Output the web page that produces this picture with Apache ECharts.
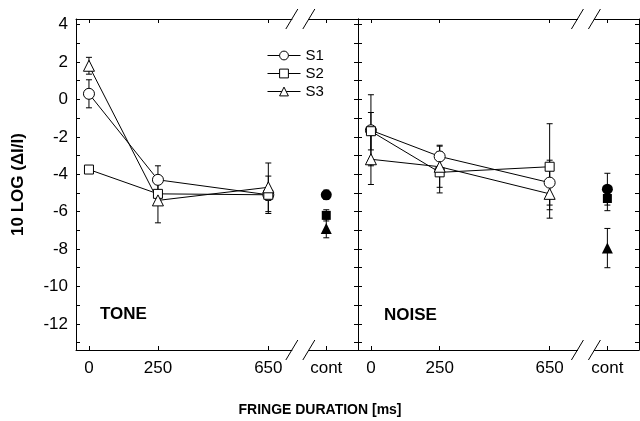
<!DOCTYPE html>
<html>
<head>
<meta charset="utf-8">
<script src="https://cdn.jsdelivr.net/npm/echarts@6/dist/echarts.min.js"></script>
<style>
  html, body { margin: 0; padding: 0; background: #fff; }
  #grafico { width: 640px; height: 421px; }
</style>
</head>
<body>
<div id="grafico"></div>
<script>
// Posiciones del eje x (ms); "cont" se dibuja en 860
const duraciones = [0, 250, 650];
const posCont = 860;
const ticksX = [0, 250, 650, 860];
const etiquetasX = ['0', '250', '650', 'cont'];
const ticksY = [-13, -12, -11, -10, -9, -8, -7, -6, -5, -4, -3, -2, -1, 0, 1, 2, 3, 4];
const etiquetasY = [-12, -10, -8, -6, -4, -2, 0, 2, 4];
const nombres = ['S1', 'S2', 'S3'];
const posCorte = [766, 782];

// TONE
const toneS1 = [0.3, -4.3, -5.1];
const toneS1Err = [0.75, 0.75, 0.3];
const toneS2 = [-3.75, -5.05, -5.1];
const toneS2Err = [0.15, 0.2, 1.0];
const toneS3 = [1.8, -5.4, -4.7];
const toneS3Err = [0.45, 1.2, 1.3];
const toneCont = [-5.1, -6.2, -6.9];
const toneContErr = [0.25, 0.3, 0.5];

// NOISE
const noiseS1 = [-1.65, -3.05, -4.45];
const noiseS1Err = [1.9, 0.6, 1.2];
const noiseS2 = [-1.7, -3.9, -3.6];
const noiseS2Err = [1.0, 1.1, 2.3];
const noiseS3 = [-3.2, -3.6, -5.05];
const noiseS3Err = [1.35, 1.1, 1.3];
const noiseCont = [-4.8, -5.3, -7.95];
const noiseContErr = [0.85, 0.65, 1.05];

const fuente = 'Liberation Sans, Arial, sans-serif';
const simbolos = ['circle', 'rect', 'triangle'];
const tamSimbolos = [11, 9, 11];
const yMin = -13.4, yMax = 4.3, xMin = -47, xMax = 975;

function renderBarraError(params, api) {
    const x = api.value(0);
    const abajo = api.coord([x, api.value(1)]);
    const arriba = api.coord([x, api.value(2)]);
    const estilo = { stroke: '#000', lineWidth: 1 };
    return {
        type: 'group',
        children: [
            { type: 'line', shape: { x1: abajo[0], y1: abajo[1], x2: arriba[0], y2: arriba[1] }, style: estilo },
            { type: 'line', shape: { x1: abajo[0] - 3, y1: abajo[1], x2: abajo[0] + 3, y2: abajo[1] }, style: estilo },
            { type: 'line', shape: { x1: arriba[0] - 3, y1: arriba[1], x2: arriba[0] + 3, y2: arriba[1] }, style: estilo }
        ]
    };
}

function renderCorte(params, api) {
    const x = api.value(0);
    const hijos = [];
    [yMax, yMin].forEach(v => {
        const p = api.coord([x, v]);
        hijos.push({ type: 'rect', shape: { x: p[0] - 8, y: p[1] - 2, width: 16, height: 4 }, style: { fill: '#fff' } });
        [-8.5, 8.5].forEach(d => {
            hijos.push({
                type: 'line',
                shape: { x1: p[0] + d - 6, y1: p[1] + 10, x2: p[0] + d + 6, y2: p[1] - 10 },
                style: { stroke: '#000', lineWidth: 1 }
            });
        });
    });
    return { type: 'group', children: hijos };
}

function seriesPanel(ix, iy, valores, errores, cont, contErr, corte) {
    const series = [];
    valores.forEach((serie, i) => {
        const barras = duraciones.map((d, k) => [d, serie[k] - errores[i][k], serie[k] + errores[i][k]]);
        series.push({
            type: 'custom', xAxisIndex: ix, yAxisIndex: iy, clip: false, z: 3,
            renderItem: renderBarraError, data: barras, silent: true
        });
        series.push({
            name: nombres[i], type: 'line', xAxisIndex: ix, yAxisIndex: iy, z: 5,
            data: duraciones.map((d, k) => [d, serie[k]]),
            symbol: simbolos[i], symbolSize: tamSimbolos[i], showAllSymbol: true,
            lineStyle: { color: '#000', width: 1 },
            itemStyle: { color: '#fff', borderColor: '#000', borderWidth: 1 }
        });
    });
    const barrasCont = cont.map((v, k) => [posCont, v - contErr[k], v + contErr[k]]);
    series.push({
        type: 'custom', xAxisIndex: ix, yAxisIndex: iy, clip: false, z: 3,
        renderItem: renderBarraError, data: barrasCont, silent: true
    });
    series.push({
        type: 'scatter', xAxisIndex: ix, yAxisIndex: iy, z: 5,
        data: cont.map((v, k) => ({ value: [posCont, v], symbol: simbolos[k], symbolSize: tamSimbolos[k] })),
        itemStyle: { color: '#000', opacity: 1 }
    });
    series.push({
        type: 'custom', xAxisIndex: ix, yAxisIndex: iy, clip: false, z: 4, silent: true,
        renderItem: renderCorte, data: [[corte, 0]]
    });
    return series;
}

function ejeX(grid, pos) {
    return {
        type: 'value', gridIndex: grid, position: pos, min: xMin, max: xMax,
        axisLine: { onZero: false, lineStyle: { color: '#000', width: 1 } },
        axisTick: { inside: true, length: 4, customValues: ticksX, lineStyle: { color: '#000' } },
        axisLabel: pos === 'bottom' ? {
            customValues: ticksX, margin: 10, color: '#000', fontSize: 17, fontFamily: fuente,
            formatter: v => etiquetasX[ticksX.indexOf(v)]
        } : { show: false },
        splitLine: { show: false }
    };
}

function ejeY(grid, pos, conEtiquetas) {
    return {
        type: 'value', gridIndex: grid, position: pos, min: yMin, max: yMax,
        name: conEtiquetas ? '10 LOG (\u0394I/I)' : '',
        nameLocation: 'middle', nameGap: 49, nameRotate: 90,
        nameTextStyle: { color: '#000', fontSize: 17, fontWeight: 'bold', fontFamily: fuente },
        axisLine: { show: true, onZero: false, lineStyle: { color: '#000', width: 1 } },
        axisTick: { inside: true, length: 4, customValues: ticksY, lineStyle: { color: '#000' } },
        axisLabel: conEtiquetas ? {
            customValues: etiquetasY, margin: 8, color: '#000', fontSize: 17, fontFamily: fuente
        } : { show: false },
        splitLine: { show: false }
    };
}

const grafico = echarts.init(document.getElementById('grafico'));

const opciones = {
    animation: false,
    backgroundColor: '#fff',
    grid: [
        { left: 76, top: 19, width: 282, height: 331 },
        { left: 358, top: 19, width: 281, height: 331 }
    ],
    xAxis: [ejeX(0, 'bottom'), ejeX(0, 'top'), ejeX(1, 'bottom'), ejeX(1, 'top')],
    yAxis: [ejeY(0, 'left', true), ejeY(0, 'right', false), ejeY(1, 'left', false), ejeY(1, 'right', false)],
    legend: {
        data: nombres, orient: 'vertical', left: 262, top: 43,
        itemWidth: 33, itemHeight: 11, itemGap: 3,
        lineStyle: { width: 1, color: '#000' },
        itemStyle: { borderWidth: 1 },
        textStyle: { color: '#000', fontSize: 15, fontFamily: fuente }
    },
    graphic: [
        { type: 'text', left: 100, top: 306, style: { text: 'TONE', fill: '#000', font: 'bold 17px ' + fuente } },
        { type: 'text', left: 384, top: 307, style: { text: 'NOISE', fill: '#000', font: 'bold 17px ' + fuente } },
        { type: 'text', left: 'center', top: 403, style: { text: 'FRINGE DURATION [ms]', fill: '#000', font: 'bold 14px ' + fuente } }
    ],
    series: [
        ...seriesPanel(0, 0, [toneS1, toneS2, toneS3], [toneS1Err, toneS2Err, toneS3Err], toneCont, toneContErr, posCorte[0]),
        ...seriesPanel(2, 2, [noiseS1, noiseS2, noiseS3], [noiseS1Err, noiseS2Err, noiseS3Err], noiseCont, noiseContErr, posCorte[1])
    ]
};

grafico.setOption(opciones);
</script>
</body>
</html>
